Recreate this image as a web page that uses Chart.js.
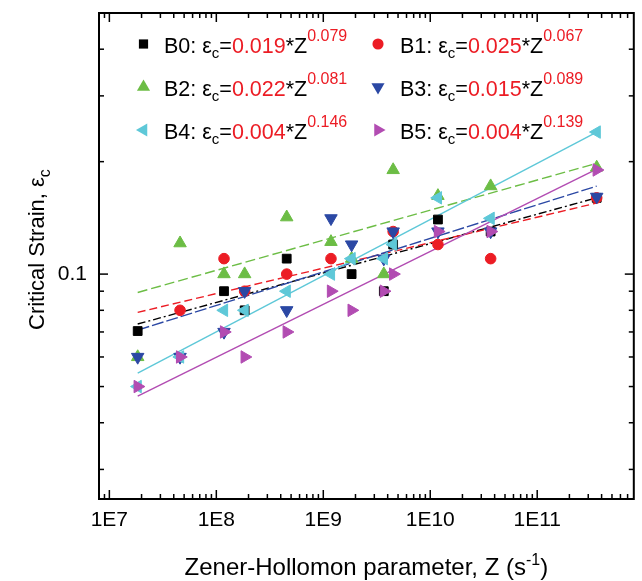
<!DOCTYPE html>
<html>
<head>
<meta charset="utf-8">
<script src="https://cdn.jsdelivr.net/npm/chart.js@4.4.0/dist/chart.umd.min.js"></script>
<style>
  body { margin: 0; background: #fff; }
</style>
</head>
<body>
<canvas id="strainChart" width="642" height="581"></canvas>
<script>
// Zener-Hollomon values (s^-1) and critical strains
const zB0 = [1.84e7, 1.18e8, 1.84e8, 4.55e8, 1.84e9, 3.68e9, 4.5e9, 1.18e10, 3.67e10, 3.6e11];
const epsB0 = [0.0704, 0.090, 0.080, 0.110, 0.100, 0.090, 0.120, 0.140, 0.130, 0.160];

const zB1 = [4.58e7, 1.18e8, 1.84e8, 4.55e8, 1.18e9, 4.5e9, 1.18e10, 3.67e10, 3.6e11];
const epsB1 = [0.080, 0.110, 0.090, 0.100, 0.110, 0.130, 0.120, 0.110, 0.160];

const zFull = [1.84e7, 4.58e7, 1.18e8, 1.84e8, 4.55e8, 1.18e9, 1.84e9, 3.68e9, 4.5e9, 1.18e10, 3.67e10, 3.6e11];
const epsB2 = [0.060, 0.121, 0.100, 0.100, 0.142, 0.122, 0.110, 0.100, 0.190, 0.162, 0.172, 0.193];
const epsB3 = [0.060, 0.060, 0.070, 0.090, 0.080, 0.141, 0.120, 0.110, 0.130, 0.130, 0.130, 0.161];
const epsB4 = [0.050, 0.060, 0.080, 0.080, 0.090, 0.100, 0.110, 0.110, 0.120, 0.160, 0.141, 0.240];
const epsB5 = [0.050, 0.060, 0.070, 0.060, 0.070, 0.090, 0.080, 0.090, 0.100, 0.130, 0.130, 0.190];

// fitted lines, end points
const fitZ = [1.84e7, 3.6e11];
const fitB0 = [0.0735, 0.160];
const fitB1 = [0.079, 0.155];
const fitB2 = [0.0893, 0.198];
const fitB3 = [0.0708, 0.172];
const fitB4 = [0.0543, 0.240];
const fitB5 = [0.0471, 0.191];

// legend texts
const seriesNames = ["B0", "B1", "B2", "B3", "B4", "B5"];
const coefLabels = ["0.019", "0.025", "0.022", "0.015", "0.004", "0.004"];
const expLabels = ["0.079", "0.067", "0.081", "0.089", "0.146", "0.139"];

// axis ticks
const xTickValues = [1e7, 1e8, 1e9, 1e10, 1e11];
const yTickValues = [0.1];

// styles
const colors = ["#000000", "#ec1c24", "#6cbd45", "#2b48a4", "#5ec8d8", "#b24cb2"];
const shapes = ["rect", "circle", "triangle", "triangle", "triangle", "triangle"];
const rotations = [0, 0, 0, 180, -90, 90];
const sizes = [6.2, 5.3, 7.2, 7.2, 7.2, 7.2];
const dashes = [[8, 3, 2, 3], [8, 4], [10, 4], [12, 3], [], []];

const FONT = "'Liberation Sans', Arial, sans-serif";

const toPoints = (xs, ys) => xs.map((v, i) => ({ x: v, y: ys[i] }));

const pointSets = [
    toPoints(zB0, epsB0),
    toPoints(zB1, epsB1),
    toPoints(zFull, epsB2),
    toPoints(zFull, epsB3),
    toPoints(zFull, epsB4),
    toPoints(zFull, epsB5),
];
const fitSets = [fitB0, fitB1, fitB2, fitB3, fitB4, fitB5].map((f) => toPoints(fitZ, f));

const datasets = [];
pointSets.forEach((pts, i) => {
    datasets.push({
        label: seriesNames[i],
        data: pts,
        showLine: false,
        pointStyle: shapes[i],
        pointRotation: rotations[i],
        pointRadius: sizes[i],
        pointBackgroundColor: colors[i],
        pointBorderColor: colors[i],
        pointBorderWidth: 1,
        order: 6 - i, // later series on top
    });
});
fitSets.forEach((pts, i) => {
    datasets.push({
        label: seriesNames[i] + " fit",
        data: pts,
        showLine: true,
        borderColor: colors[i],
        borderWidth: 1.4,
        borderDash: dashes[i],
        pointRadius: 0,
        order: 20 - i,
    });
});

// draw a marker like the chart's points (used in the legend)
function drawMarker(ctx, shape, rot, r, x, y, color) {
    ctx.save();
    ctx.fillStyle = color;
    ctx.beginPath();
    if (shape === "rect") {
        const s = Math.SQRT1_2 * r;
        ctx.rect(x - s, y - s, 2 * s, 2 * s);
    } else if (shape === "circle") {
        ctx.arc(x, y, r, 0, Math.PI * 2);
    } else {
        let a = (rot * Math.PI) / 180;
        for (let k = 0; k < 3; k++) {
            const px = x + Math.sin(a) * r;
            const py = y - Math.cos(a) * r;
            k === 0 ? ctx.moveTo(px, py) : ctx.lineTo(px, py);
            a += (2 * Math.PI) / 3;
        }
        ctx.closePath();
    }
    ctx.fill();
    ctx.restore();
}

// writes runs of text [text, color, size, dy] from x along baseline, returns end x
function drawRuns(ctx, runs, x, baseline) {
    runs.forEach(([txt, color, size, dy]) => {
        ctx.font = size + "px " + FONT;
        ctx.fillStyle = color;
        ctx.fillText(txt, x, baseline + dy);
        x += ctx.measureText(txt).width;
    });
    return x;
}

const framePlugin = {
    id: "framePlugin",
    afterDatasetsDraw(chart) {
        const { ctx, chartArea: a, scales } = chart;
        const xs = scales.x;
        const ys = scales.y;
        ctx.save();
        ctx.strokeStyle = "#000";
        ctx.lineWidth = 1.5;

        // inward ticks on all four sides
        const tick = (x1, y1, x2, y2) => {
            ctx.beginPath();
            ctx.moveTo(x1, y1);
            ctx.lineTo(x2, y2);
            ctx.stroke();
        };
        for (let e = 6; e <= 11; e++) {
            for (let m = 1; m <= 9; m++) {
                const v = m * Math.pow(10, e);
                if (v <= xs.min || v >= xs.max) continue;
                const px = xs.getPixelForValue(v);
                const len = m === 1 ? 9 : 5;
                tick(px, a.bottom, px, a.bottom - len);
                tick(px, a.top, px, a.top + len);
            }
        }
        for (let e = -2; e <= -1; e++) {
            for (let m = 1; m <= 9; m++) {
                const v = m * Math.pow(10, e);
                if (v <= ys.min || v >= ys.max) continue;
                const py = ys.getPixelForValue(v);
                const len = m === 1 ? 9 : 5;
                tick(a.left, py, a.left + len, py);
                tick(a.right, py, a.right - len, py);
            }
        }

        ctx.lineWidth = 2;
        ctx.strokeRect(a.left, a.top, a.right - a.left, a.bottom - a.top);

        // legend, two columns by three rows
        const colMarker = [143.5, 378];
        const colText = [164, 400];
        const rowBase = [53, 96, 139];
        ctx.textBaseline = "alphabetic";
        ctx.textAlign = "left";
        seriesNames.forEach((name, i) => {
            const col = i % 2;
            const row = Math.floor(i / 2);
            const base = rowBase[row];
            drawMarker(ctx, shapes[i], rotations[i], sizes[i] * 1.05, colMarker[col], base - 9, colors[i]);
            drawRuns(ctx, [
                [name + ": \u03b5", "#000", 21.5, 0],
                ["c", "#000", 15, 5],
                ["=", "#000", 21.5, 0],
                [coefLabels[i], "#ec1c24", 21.5, 0],
                ["*Z", "#000", 21.5, 0],
                [expLabels[i], "#ec1c24", 16, -12],
            ], colText[col], base);
        });

        // x axis title
        const xRuns = [
            ["Zener-Hollomon parameter, Z (s", "#000", 24, 0],
            ["-1", "#000", 16, -10],
            [")", "#000", 24, 0],
        ];
        let w = 0;
        xRuns.forEach(([t, c, s]) => {
            ctx.font = s + "px " + FONT;
            w += ctx.measureText(t).width;
        });
        drawRuns(ctx, xRuns, (a.left + a.right) / 2 - w / 2, 575);

        // y axis title, rotated
        ctx.save();
        ctx.translate(44, 330);
        ctx.rotate(-Math.PI / 2);
        drawRuns(ctx, [
            ["Critical Strain, \u03b5", "#000", 22, 0],
            ["c", "#000", 16, 6],
        ], 0, 0);
        ctx.restore();

        ctx.restore();
    },
};

new Chart(document.getElementById("strainChart"), {
    type: "scatter",
    data: { datasets },
    options: {
        responsive: false,
        animation: false,
        layout: { padding: { top: 13, right: 5, left: 0, bottom: 0 } },
        plugins: {
            legend: { display: false },
            tooltip: { enabled: false },
        },
        scales: {
            x: {
                type: "logarithmic",
                min: 8e6,
                max: 8e11,
                grid: { display: false, drawTicks: false },
                border: { display: false },
                afterFit: (scale) => {
                    scale.height = 82;
                    scale.paddingLeft = 0;
                    scale.paddingRight = 0;
                },
                afterBuildTicks: (scale) => {
                    scale.ticks = xTickValues.map((v) => ({ value: v }));
                },
                ticks: {
                    autoSkip: false,
                    maxRotation: 0,
                    padding: 9,
                    color: "#000",
                    font: { family: FONT, size: 21 },
                    callback: (v) => "1E" + Math.round(Math.log10(v)),
                },
            },
            y: {
                type: "logarithmic",
                min: 0.025,
                max: 0.5,
                grid: { display: false, drawTicks: false },
                border: { display: false },
                afterFit: (scale) => {
                    scale.width = 99;
                    scale.paddingTop = 0;
                    scale.paddingBottom = 0;
                },
                afterBuildTicks: (scale) => {
                    scale.ticks = yTickValues.map((v) => ({ value: v }));
                },
                ticks: {
                    autoSkip: false,
                    padding: 12,
                    color: "#000",
                    font: { family: FONT, size: 21 },
                    callback: (v) => String(v),
                },
            },
        },
    },
    plugins: [framePlugin],
});
</script>
</body>
</html>
